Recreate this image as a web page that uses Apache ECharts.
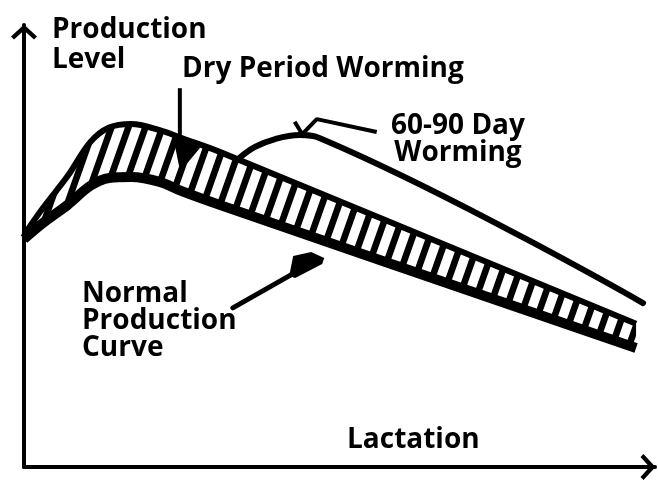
<!DOCTYPE html>
<html>
<head>
<meta charset="utf-8">
<script src="https://cdn.jsdelivr.net/npm/echarts@6/dist/echarts.min.js"></script>
<style>
  html, body { margin: 0; padding: 0; background: #fff; }
  #chart { width: 658px; height: 485px; }
</style>
</head>
<body>
<div id="chart"></div>
<script>
// lactation stage (x) and production level (y), 0-100 scale
const lactation = [0, 3, 7, 10.5, 13.5, 17, 21.5, 25, 31, 97];
const dryPeriodLevel = [52.5, 58.6, 66.0, 73.5, 76.8, 77.6, 76.2, 74.4, 71.3, 32.4];
const normalLevel = [51.6, 55.2, 59.4, 63.6, 65.4, 65.6, 64.5, 62.4, 59.3, 26.9];

// 60-90 day worming branch
const wormingLactation = [33.8, 36.6, 39.8, 43.7, 46.9, 98.1];
const wormingLevel = [69.5, 72.4, 74.2, 75.1, 74.4, 37.1];

const FONT = '"Open Sans", "DejaVu Sans", sans-serif';

// diagonal hatch used inside the band
const makeHatch = () => {
  const w = 17, h = 48, sw = 7;
  const c = document.createElement('canvas');
  c.width = w;
  c.height = h;
  const ctx = c.getContext('2d');
  ctx.fillStyle = '#fff';
  ctx.fillRect(0, 0, w, h);
  ctx.fillStyle = '#000';
  [-w, 0, w].forEach((off) => {
    ctx.beginPath();
    ctx.moveTo(off, h);
    ctx.lineTo(off + sw, h);
    ctx.lineTo(off + w + sw, 0);
    ctx.lineTo(off + w, 0);
    ctx.closePath();
    ctx.fill();
  });
  return c;
};

const zip = (xs, ys) => xs.map((x, i) => [x, ys[i]]);

const chart = echarts.init(document.getElementById('chart'));

// open arrow head (points up, rotated by the axis)
const arrowHead = 'path://M13,0 L26,12 L23,15 L13,6 L3,15 L0,12 Z';
const axisCommon = {
  type: 'value',
  min: 0,
  max: 100,
  z: 10,
  axisTick: { show: false },
  axisLabel: { show: false },
  splitLine: { show: false },
  axisLine: {
    show: true,
    symbol: ['none', arrowHead],
    symbolSize: [26, 15],
    symbolOffset: [0, -7],
    lineStyle: { color: '#000', width: 4 },
  },
};

const textStyle = (extra) =>
  Object.assign({ fill: '#000', fontFamily: FONT, fontWeight: 'bold', fontSize: 28 }, extra);

const option = {
  backgroundColor: '#fff',
  animation: false,
  grid: { left: 24, right: 3, top: 25, bottom: 18 },
  xAxis: axisCommon,
  yAxis: axisCommon,
  series: [
    {
      // dry period worming (top of the band); hatch fills down, the normal curve masks below
      name: 'Dry Period Worming',
      type: 'line',
      data: zip(lactation, dryPeriodLevel),
      smooth: 0.35,
      showSymbol: false,
      z: 2,
      lineStyle: { color: '#000', width: 6 },
      areaStyle: { color: { image: makeHatch(), repeat: 'repeat' }, opacity: 1 },
    },
    {
      name: 'Normal Production Curve',
      type: 'line',
      data: zip(lactation, normalLevel),
      smooth: 0.35,
      showSymbol: false,
      z: 3,
      lineStyle: { color: '#000', width: 10 },
      areaStyle: { color: '#fff', opacity: 1, shadowColor: '#fff', shadowBlur: 0, shadowOffsetX: 2 },
    },
    {
      name: '60-90 Day Worming',
      type: 'line',
      data: zip(wormingLactation, wormingLevel),
      smooth: 0.4,
      showSymbol: false,
      z: 3,
      lineStyle: { color: '#000', width: 6, cap: 'round' },
    },
    // leader lines to the labels
    {
      type: 'line',
      data: [[24.7, 85.7], [24.7, 75.1]],
      showSymbol: false,
      z: 5,
      lineStyle: { color: '#000', width: 4 },
    },
    {
      type: 'line',
      data: [[42.9, 78.1], [44.1, 75.3], [46.4, 78.7], [55.9, 75.8]],
      showSymbol: false,
      z: 5,
      lineStyle: { color: '#000', width: 4 },
    },
    {
      type: 'line',
      data: [[33.1, 36.0], [43.7, 44.6]],
      showSymbol: false,
      z: 5,
      lineStyle: { color: '#000', width: 5, cap: 'round' },
    },
    {
      type: 'scatter',
      z: 5,
      itemStyle: { color: '#000', opacity: 1 },
      data: [
        { value: [25.7, 71.3], symbol: 'path://M0,0 L28,16 L8,40 Z', symbolSize: [28, 40] },
        { value: [44.8, 45.7], symbol: 'path://M0,24 L4,4 L22,0 L35,6 L33,12 L6,26 Z', symbolSize: [35, 26] },
      ],
    },
  ],
  graphic: [
    { type: 'text', z: 100, left: 52, top: 15, style: textStyle({ text: 'Production\nLevel', lineHeight: 30 }) },
    { type: 'text', z: 100, left: 182, top: 54, style: textStyle({ text: 'Dry Period Worming', lineHeight: 30 }) },
    { type: 'text', z: 100, x: 458, y: 113, style: textStyle({ text: '60-90 Day\nWorming', lineHeight: 27, align: 'center' }) },
    { type: 'text', z: 100, left: 82, top: 280, style: textStyle({ text: 'Normal\nProduction\nCurve', lineHeight: 27 }) },
    { type: 'text', z: 100, left: 347, top: 425, style: textStyle({ text: 'Lactation', lineHeight: 30 }) },
  ],
};

chart.setOption(option);
</script>
</body>
</html>
